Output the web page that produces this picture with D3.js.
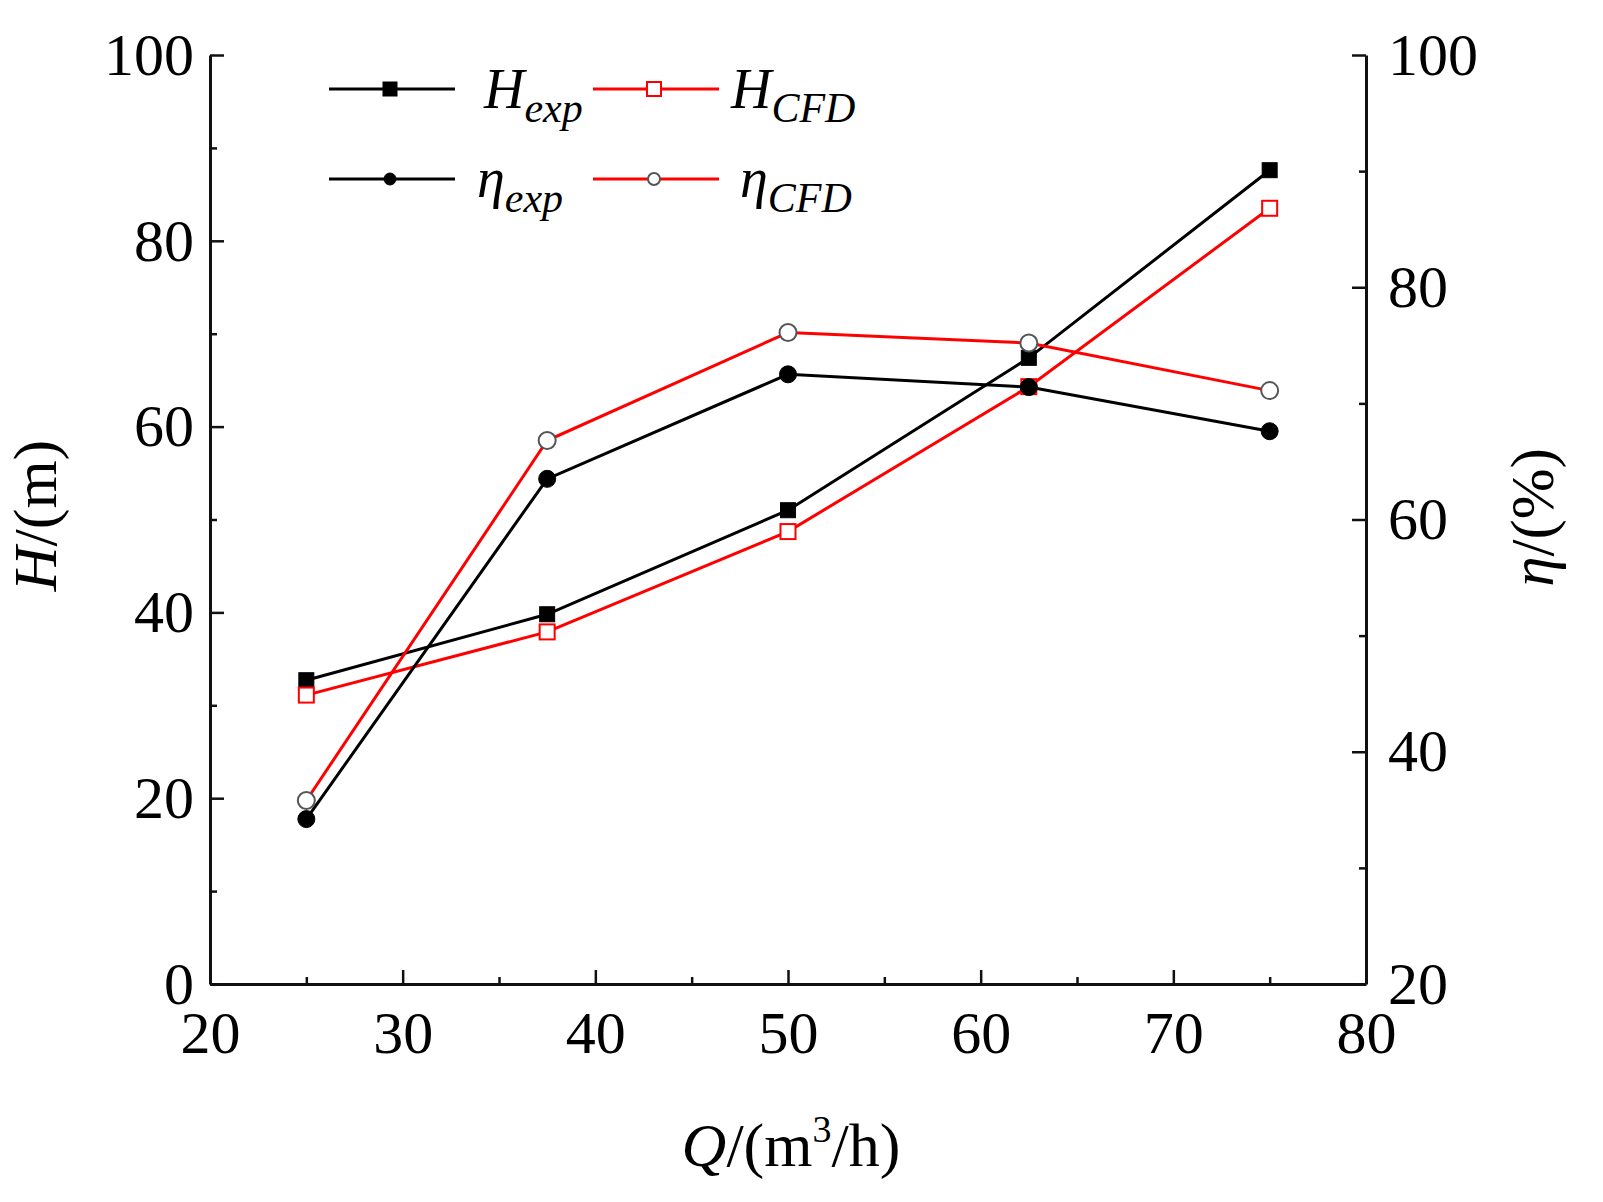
<!DOCTYPE html>
<html>
<head>
<meta charset="utf-8">
<script src="https://cdn.jsdelivr.net/npm/d3@7"></script>
<style>
  body { margin: 0; background: #fff; }
  text { font-family: "Liberation Serif", "Times New Roman", serif; }
</style>
</head>
<body>
<div id="chart"></div>
<script>
'use strict';

// flow rate Q (m3/h)
const flows = [25, 37.5, 50, 62.5, 75];
// head H (m)
const headExp = [32.7, 39.8, 51.0, 67.4, 87.6];
const headCfd = [31.1, 37.9, 48.7, 64.3, 83.5];
// efficiency eta (%)
const etaExp = [34.2, 63.5, 72.5, 71.4, 67.6];
const etaCfd = [35.8, 66.8, 76.1, 75.2, 71.1];

const xTicks = [20, 30, 40, 50, 60, 70, 80];
const xMinor = [25, 35, 45, 55, 65, 75];
const hTicks = [0, 20, 40, 60, 80, 100];
const hMinor = [10, 30, 50, 70, 90];
const etaTicks = [20, 40, 60, 80, 100];
const etaMinor = [30, 50, 70, 90];

const W = 1603, H = 1202;
const m = { left: 210, right: 1366, top: 55, bottom: 984 };

const svg = d3.select("#chart").append("svg")
    .attr("width", W)
    .attr("height", H);

const x = d3.scaleLinear().domain([20, 80]).range([m.left, m.right]);
const yH = d3.scaleLinear().domain([0, 100]).range([m.bottom, m.top]);
const yE = d3.scaleLinear().domain([20, 100]).range([m.bottom, m.top]);

function styleAxis(g) {
    g.select(".domain").attr("stroke", "#111").attr("stroke-width", 3);
    g.selectAll(".tick line").attr("stroke", "#111").attr("stroke-width", 2.5);
    g.selectAll(".tick text")
        .attr("fill", "#000")
        .style("font-family", '"Liberation Serif", serif')
        .style("font-size", "60px");
}

// bottom axis
svg.append("g")
    .attr("transform", `translate(0,${m.bottom})`)
    .call(d3.axisBottom(x).tickValues(xMinor).tickSize(-7).tickFormat(""))
    .call(g => g.select(".domain").remove())
    .call(g => g.selectAll("line").attr("stroke", "#111").attr("stroke-width", 2.5));
svg.append("g")
    .attr("transform", `translate(0,${m.bottom})`)
    .call(d3.axisBottom(x).tickValues(xTicks).tickSizeInner(-14).tickSizeOuter(0))
    .call(styleAxis)
    .call(g => g.selectAll(".tick text").attr("dy", "0.71em").attr("y", 26));

// left axis
svg.append("g")
    .attr("transform", `translate(${m.left},0)`)
    .call(d3.axisLeft(yH).tickValues(hMinor).tickSize(-7).tickFormat(""))
    .call(g => g.select(".domain").remove())
    .call(g => g.selectAll("line").attr("stroke", "#111").attr("stroke-width", 2.5));
svg.append("g")
    .attr("transform", `translate(${m.left},0)`)
    .call(d3.axisLeft(yH).tickValues(hTicks).tickSizeInner(-14).tickSizeOuter(0))
    .call(styleAxis)
    .call(g => g.selectAll(".tick text").attr("x", -16));

// right axis
svg.append("g")
    .attr("transform", `translate(${m.right},0)`)
    .call(d3.axisRight(yE).tickValues(etaMinor).tickSize(-7).tickFormat(""))
    .call(g => g.select(".domain").remove())
    .call(g => g.selectAll("line").attr("stroke", "#111").attr("stroke-width", 2.5));
svg.append("g")
    .attr("transform", `translate(${m.right},0)`)
    .call(d3.axisRight(yE).tickValues(etaTicks).tickSizeInner(-14).tickSizeOuter(0))
    .call(styleAxis)
    .call(g => g.selectAll(".tick text").attr("x", 22));

// series
const series = [
    { vals: headExp, y: yH, color: "#000", marker: "square", filled: true },
    { vals: headCfd, y: yH, color: "#ff0000", marker: "square", filled: false },
    { vals: etaExp, y: yE, color: "#000", marker: "circle", filled: true },
    { vals: etaCfd, y: yE, color: "#ff0000", marker: "circle", filled: false }
];

const line = d3.line();

series.forEach(s => {
    const pts = flows.map((q, i) => [x(q), s.y(s.vals[i])]);
    svg.append("path")
        .attr("d", line(pts))
        .attr("fill", "none")
        .attr("stroke", s.color)
        .attr("stroke-width", 3);
});

function drawMarker(g, px, py, s, size) {
    if (s.marker === "square") {
        g.append("rect")
            .attr("x", px - size / 2).attr("y", py - size / 2)
            .attr("width", size).attr("height", size)
            .attr("fill", s.filled ? "#000" : "#fff")
            .attr("stroke", s.filled ? "#000" : "#ff0000")
            .attr("stroke-width", s.filled ? 1 : 2);
    } else {
        g.append("circle")
            .attr("cx", px).attr("cy", py)
            .attr("r", size / 2)
            .attr("fill", s.filled ? "#000" : "#fff")
            .attr("stroke", s.filled ? "#000" : "#555")
            .attr("stroke-width", s.filled ? 1 : 2);
    }
}

const markers = svg.append("g");
series.forEach(s => {
    flows.forEach((q, i) => drawMarker(markers, x(q), s.y(s.vals[i]), s, s.marker === "square" ? 15 : 17));
});

// legend
const legend = svg.append("g");
const legendItems = [
    { s: series[0], x0: 329, y: 89, sym: "H", sub: "exp", tx: 484, ty: 108, subDx: 0, subDy: 14 },
    { s: series[1], x0: 593, y: 89, sym: "H", sub: "CFD", tx: 731, ty: 108, subDx: 0, subDy: 14 },
    { s: series[2], x0: 329, y: 179, sym: "η", sub: "exp", tx: 477, ty: 197, subDx: 0, subDy: 15 },
    { s: series[3], x0: 593, y: 179, sym: "η", sub: "CFD", tx: 740, ty: 197, subDx: 0, subDy: 15 }
];
legendItems.forEach(d => {
    legend.append("line")
        .attr("x1", d.x0).attr("x2", d.x0 + 126)
        .attr("y1", d.y).attr("y2", d.y)
        .attr("stroke", d.s.color).attr("stroke-width", 3);
    drawMarker(legend, d.x0 + 61, d.y, d.s, d.s.marker === "square" ? 14 : 12);
    const t = legend.append("text")
        .attr("x", d.tx).attr("y", d.ty)
        .style("font-style", "italic")
        .style("font-size", "56px");
    t.append("tspan").text(d.sym);
    t.append("tspan")
        .attr("dx", d.subDx).attr("dy", d.subDy)
        .style("font-size", "42px")
        .text(d.sub);
});

// axis titles
const xt = svg.append("text")
    .attr("x", (m.left + m.right) / 2 + 3).attr("y", 1166)
    .attr("text-anchor", "middle")
    .style("font-size", "62px");
xt.append("tspan").style("font-style", "italic").text("Q");
xt.append("tspan").text("/(m");
xt.append("tspan").attr("dy", -24).style("font-size", "38px").text("3");
xt.append("tspan").attr("dy", 24).text("/h)");

const yt = svg.append("text")
    .attr("transform", `translate(56,${(m.top + m.bottom) / 2 - 4}) rotate(-90)`)
    .attr("text-anchor", "middle")
    .style("font-size", "62px");
yt.append("tspan").style("font-style", "italic").text("H");
yt.append("tspan").text("/(m)");

const et = svg.append("text")
    .attr("transform", `translate(1553,${(m.top + m.bottom) / 2 - 2}) rotate(-90)`)
    .attr("text-anchor", "middle")
    .style("font-size", "61px");
et.append("tspan").style("font-style", "italic").text("η");
et.append("tspan").text("/(%)");
</script>
</body>
</html>
